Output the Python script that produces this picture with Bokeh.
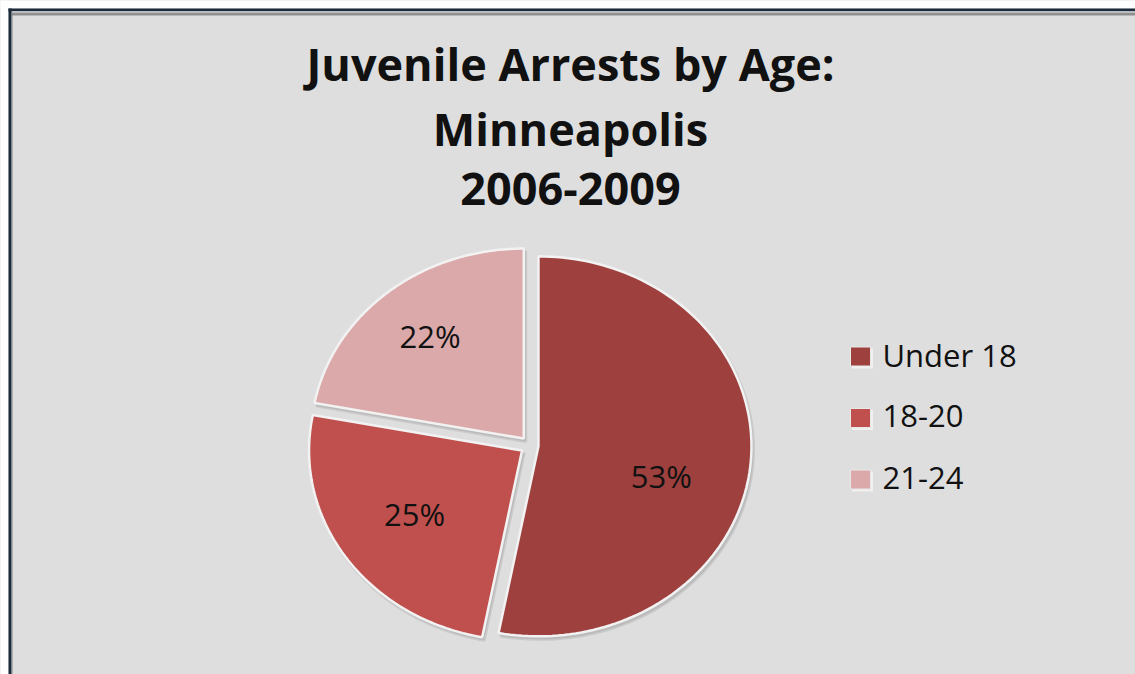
import numpy as np
from bokeh.plotting import figure
from bokeh.models import ColumnDataSource, Range1d
from bokeh.embed import file_html
from bokeh.resources import INLINE
from bokeh.core.properties import value

# ---- data ----
categories = ["Under 18", "18-20", "21-24"]
shares = [53, 25, 22]
pct_labels = ["53%", "25%", "22%"]
colors = ["#9d403e", "#c0504d", "#dba9a9"]
title_lines = ["Juvenile Arrests by Age:", "Minneapolis", "2006-2009"]

# ---- layout / style ----
W, H = 1135, 674
BG = "#dedede"
FONT = "Open Sans"
cx, cy = 529, 229          # pie centre (pixels, y up)
rx, ry = 213, 190          # pie radii (slightly wide, as in the original)
explode = 9
label_r = [0.60, 0.61, 0.69]
label_shift = [-10.5, 0, 0]

p = figure(width=W, height=H, x_range=Range1d(0, W), y_range=Range1d(0, H),
           output_backend="svg", toolbar_location=None, min_border=0,
           x_axis_location=None, y_axis_location=None)
p.grid.visible = False
p.outline_line_color = None
p.background_fill_color = BG
p.border_fill_color = BG

# white page margin + frame lines (top and left)
p.quad(left=[0], right=[W], top=[H], bottom=[H - 8], fill_color="white", line_color=None)
p.quad(left=[0], right=[8], top=[H], bottom=[0], fill_color="white", line_color=None)
p.quad(left=[8], right=[W], top=[H - 8], bottom=[H - 11], fill_color="#1c2b3b", line_color=None)
p.quad(left=[11], right=[W], top=[H - 11], bottom=[H - 12], fill_color="#f4f4f4", line_color=None)
p.quad(left=[11], right=[W], top=[H - 12], bottom=[H - 15], fill_color="#8f8f8f", line_color=None)
p.quad(left=[8], right=[11], top=[H - 8], bottom=[0], fill_color="#1c2b3b", line_color=None)
p.quad(left=[11], right=[12], top=[H - 12], bottom=[0], fill_color="#7d848c", line_color=None)

# ---- pie slices ----
total = float(sum(shares))
cum = np.concatenate([[0.0], np.cumsum(shares)]) / total * 360.0
xs, ys, sxs, sys_, lx, ly = [], [], [], [], [], []
for i in range(len(shares)):
    a0 = 90.0 - cum[i]
    a1 = 90.0 - cum[i + 1]
    th = np.radians(np.linspace(a0, a1, 120))
    mid = np.radians((a0 + a1) / 2.0)
    ox = cx + explode * np.cos(mid)
    oy = cy + explode * np.sin(mid)
    px = [ox] + list(ox + rx * np.cos(th))
    py = [oy] + list(oy + ry * np.sin(th))
    xs.append(px)
    ys.append(py)
    sxs.append([v + 2 for v in px])
    sys_.append([v - 3 for v in py])
    la = mid + np.radians(label_shift[i])
    lx.append(ox + label_r[i] * rx * np.cos(la))
    ly.append(oy + label_r[i] * ry * np.sin(la))

p.patches(xs=sxs, ys=sys_, fill_color="#9a9a9a", fill_alpha=0.45, line_color="#b5b5b5",
          line_alpha=0.5, line_width=3)
src = ColumnDataSource(dict(xs=xs, ys=ys, color=colors, cat=categories))
p.patches(xs="xs", ys="ys", fill_color="color", line_color="#f2f2f2", line_width=2.5, source=src)

lab = ColumnDataSource(dict(x=lx, y=[v + 2 for v in ly], t=pct_labels))
p.text(x="x", y="y", text="t", source=lab, text_font=value(FONT), text_font_size="31px",
       text_color="#111111", text_align="center", text_baseline="alphabetic")

# ---- title ----
ty = [H - 80 + 17, H - 145 + 17, H - 205 + 17]
p.text(x=[570] * 3, y=ty, text=title_lines, text_font=value(FONT), text_font_size="45px",
       text_font_style="bold", text_color="#111111", text_align="center",
       text_baseline="alphabetic")

# ---- legend ----
leg_y = [H - 356 - 61.5 * i for i in range(len(categories))]
p.rect(x=[862] * 3, y=[v - 2 for v in leg_y], width=21, height=20, fill_color="#f0f0f0",
       line_color=None)
p.rect(x=[860] * 3, y=leg_y, width=20, height=19, fill_color=colors, line_color="#e8e8e8",
       line_width=1)
p.text(x=[882] * 3, y=[v + 2 for v in leg_y], text=categories, text_font=value(FONT),
       text_font_size="31px", text_color="#111111", text_align="left",
       text_baseline="alphabetic")

open("out.html", "w").write(file_html(p, INLINE))
